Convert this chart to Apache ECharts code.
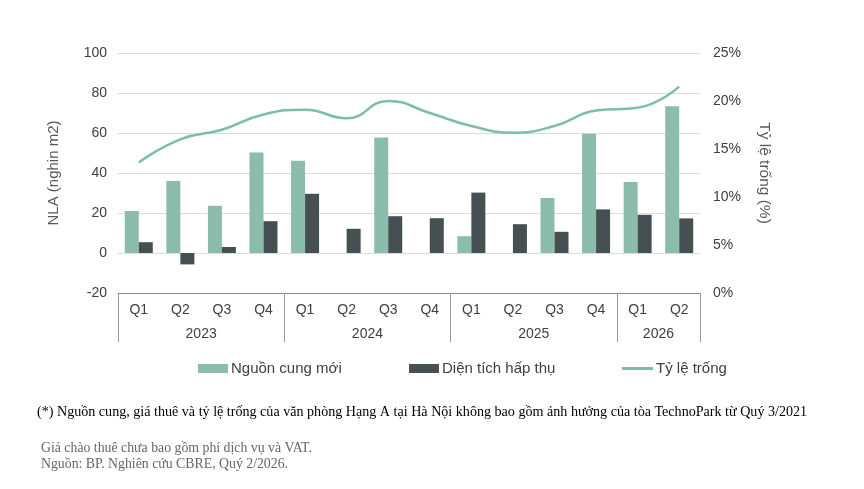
<!DOCTYPE html>
<html>
<head>
<meta charset="utf-8">
<script src="https://cdn.jsdelivr.net/npm/echarts@6/dist/echarts.min.js"></script>
<style>
html,body{margin:0;padding:0;background:#fff;}
#chart{width:864px;height:489px;}
</style>
</head>
<body>
<div id="chart"></div>
<script>
var quarters = ['Q1','Q2','Q3','Q4','Q1','Q2','Q3','Q4','Q1','Q2','Q3','Q4','Q1','Q2'];
var years = ['2023','2024','2025','2026'];
var yearSpans = [4,4,4,2];
var newSupply = [21, 36, 23.6, 50.3, 46.1, 0, 57.8, 0, 8.4, 0, 27.5, 59.6, 35.5, 73.4];
var absorption = [5.4, -5.7, 3.0, 15.9, 29.6, 12.1, 18.4, 17.4, 30.2, 14.4, 10.6, 21.8, 19.1, 17.3];
var vacancy = [13.6, 16.0, 17.0, 18.6, 19.1, 18.2, 20.0, 18.75, 17.4, 16.7, 17.4, 19.0, 19.3, 21.5];
var leftTicks = {min: -20, max: 100, interval: 20};
var rightTicks = {min: 0, max: 25, interval: 5};
var footnotes = [
  '(*) Nguồn cung, giá thuê và tỷ lệ trống của văn phòng Hạng A tại Hà Nội không bao gồm ảnh hưởng của tòa TechnoPark từ Quý 3/2021',
  'Giá chào thuê chưa bao gồm phí dịch vụ và VAT.',
  'Nguồn: BP. Nghiên cứu CBRE, Quý 2/2026.'
];
var names = ['Nguồn cung mới', 'Diện tích hấp thụ', 'Tỷ lệ trống'];

// year label positions (centre of each year's span, in quarter units)
var yearPos = {};
var acc = 0;
yearSpans.forEach(function (s, i) { yearPos[acc + s / 2] = years[i]; acc += s; });
var boundaries = {};
acc = 0;
yearSpans.forEach(function (s) { boundaries[acc] = true; acc += s; });

var FONT = '"Liberation Sans", Arial, sans-serif';
var SERIF = '"Liberation Serif", "Times New Roman", serif';
var GREEN = '#8cbcab', DARK = '#465052', LINE = '#7dbea7';

var chart = echarts.init(document.getElementById('chart'), null, {renderer: 'canvas'});
chart.setOption({
  animation: false,
  backgroundColor: '#fff',
  textStyle: {fontFamily: FONT},
  grid: {left: 118, right: 164, top: 53, bottom: 196, containLabel: false},
  legend: [
    {left: 193, top: 356, itemWidth: 30, itemHeight: 9, itemGap: 0, icon: 'rect', data: [names[0]],
     textStyle: {fontFamily: FONT, fontSize: 15, color: '#404040', padding: [0,0,0,-2]}},
    {left: 404, top: 356, itemWidth: 30, itemHeight: 9, itemGap: 0, icon: 'rect', data: [names[1]],
     textStyle: {fontFamily: FONT, fontSize: 15, color: '#404040', padding: [0,0,0,-2]}},
    {left: 617, top: 356, itemWidth: 31, itemHeight: 3, itemGap: 0, icon: 'rect', data: [names[2]],
     textStyle: {fontFamily: FONT, fontSize: 15, color: '#404040', padding: [0,0,0,-2]}}
  ],
  xAxis: [
    {
      type: 'category', data: quarters, position: 'bottom',
      axisLine: {onZero: false, lineStyle: {color: '#d9d9d9', width: 1}},
      axisTick: {show: true, length: 49, interval: function (idx) { return !!boundaries[idx]; },
                 lineStyle: {color: '#9a9a9a', width: 1}},
      axisLabel: {margin: 10, fontSize: 14, color: '#404040', interval: 0, fontFamily: FONT},
      splitLine: {show: false}
    },
    {
      type: 'value', min: 0, max: quarters.length, interval: 0.5, position: 'bottom',
      axisLine: {show: false}, axisTick: {show: false}, splitLine: {show: false},
      axisLabel: {margin: 34, fontSize: 14, color: '#404040', fontFamily: FONT,
                  showMinLabel: false, showMaxLabel: false,
                  formatter: function (v) { return yearPos[v] || ''; }}
    },
    {
      type: 'category', data: quarters, position: 'bottom',
      axisLine: {onZero: true, lineStyle: {color: '#8c8c8c', width: 1}},
      axisTick: {show: false}, axisLabel: {show: false}, splitLine: {show: false}
    }
  ],
  yAxis: [
    {
      type: 'value', min: leftTicks.min, max: leftTicks.max, interval: leftTicks.interval,
      name: 'NLA (nghin m2)', nameLocation: 'middle', nameGap: 57, nameRotate: 90,
      nameTextStyle: {fontSize: 15, color: '#595959', fontFamily: FONT},
      axisLine: {show: false}, axisTick: {show: false},
      axisLabel: {margin: 11, fontSize: 14, color: '#404040', fontFamily: FONT},
      splitLine: {lineStyle: {color: '#dcdcdc', width: 1}}
    },
    {
      type: 'value', min: rightTicks.min, max: rightTicks.max, interval: rightTicks.interval,
      position: 'right',
      name: 'Tỷ lệ trống (%)', nameLocation: 'middle', nameGap: 56, nameRotate: -90,
      nameTextStyle: {fontSize: 15.5, color: '#595959', fontFamily: FONT},
      axisLine: {show: false}, axisTick: {show: false},
      axisLabel: {margin: 13, fontSize: 14, color: '#404040', fontFamily: FONT, formatter: '{value}%'},
      splitLine: {show: false}
    }
  ],
  series: [
    {name: names[0], type: 'bar', data: newSupply, xAxisIndex: 0, yAxisIndex: 0,
     barWidth: 14, barGap: '0%', itemStyle: {color: GREEN}},
    {name: names[1], type: 'bar', data: absorption, xAxisIndex: 0, yAxisIndex: 0,
     barWidth: 14, barGap: '0%', itemStyle: {color: DARK}},
    {name: names[2], type: 'line', data: vacancy, xAxisIndex: 0, yAxisIndex: 1,
     smooth: 0.5, symbol: 'none', lineStyle: {color: LINE, width: 2.5}, itemStyle: {color: LINE}, z: 5}
  ],
  graphic: [
    {type: 'text', left: 37, top: 405, style: {text: footnotes[0], font: '14.1px ' + SERIF, fill: '#000'}},
    {type: 'text', left: 41, top: 441, style: {text: footnotes[1], font: '13.8px ' + SERIF, fill: '#666'}},
    {type: 'text', left: 41, top: 457, style: {text: footnotes[2], font: '13.8px ' + SERIF, fill: '#666'}}
  ]
});
</script>
</body>
</html>
